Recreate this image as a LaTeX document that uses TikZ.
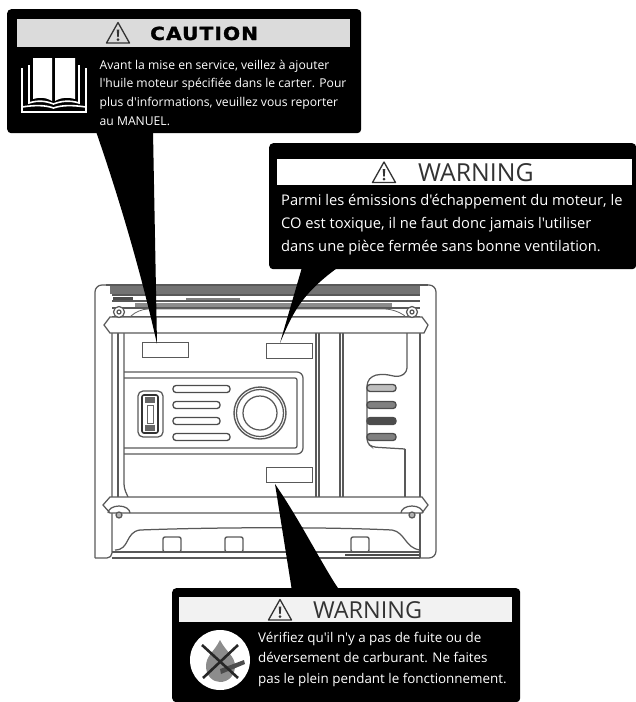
\documentclass[tikz,border=0pt]{standalone}
\usepackage{fontspec}
\setmainfont[Ligatures=TeXOff]{Open Sans}
\newfontfamily\capfont[LetterSpace=6,FakeStretch=1.12,BoldFeatures={FakeBold=1.6}]{DejaVu Sans}
\usetikzlibrary{arrows.meta,positioning,calc}

\begin{document}
\begin{tikzpicture}[x=1pt,y=-1pt,
  callout/.style={fill=black, rounded corners=4pt, anchor=north west, inner sep=0pt},
  band/.style={anchor=north west, inner sep=0pt},
  msg/.style 2 args={anchor=north west, inner sep=0pt, text=white, align=left, font=\fontsize{#1}{#2}\selectfont},
  plate/.style={draw=black!65, line width=1.2pt, fill=white, anchor=north west, inner sep=0pt, minimum width=46pt, minimum height=15pt},
  outline/.style={draw=black!65, line width=1.25pt},
  thin line/.style={draw=black!60, line width=0.8pt},
  slot/.style={draw=black!70, line width=1.3pt, rounded corners=3pt},
  warnsign/.pic={
    \draw[black!80, line width=1.3pt, line join=round] (0,-10.5) -- (11.5,10) -- (-11.5,10) -- cycle;
    \fill[black!80] (-1.3,-3.5) -- (1.3,-3.5) -- (0.7,4) -- (-0.7,4) -- cycle;
    \fill[black!80] (0,6.6) circle (1.5);
  }
]
\useasboundingbox (0,0) rectangle (636,702);

% generator frame
\draw[outline, rounded corners=7pt] (95,558) -- (95,285) -- (112,285);
\draw[outline, rounded corners=7pt] (420,285) -- (436,285) -- (436,558) -- (420,558);
\draw[outline, rounded corners=5pt] (112,333) -- (112,558) -- (95,558);
\draw[outline] (420,333) -- (420,558);
\draw[outline] (106,285) -- (428,285);
\fill[black!55] (110,286) rectangle (420,294);
\foreach \yy in {295,301,308,317} \draw[outline] (112,\yy) -- (420,\yy);
\fill[black!50] (186,298) rectangle (240,300);
\fill[black!70] (113,297) rectangle (133,300);
\fill[black!45] (135,303) rectangle (392,307);
\draw[outline] (118,333) -- (118,497);
\draw[outline, rounded corners=4pt] (124,333) -- (124,488) -- (128,497);

% top and lower straps
\draw[outline, fill=white] (104,325) -- (110,317) -- (422,317) -- (428,325) -- (424,333) -- (110,333) -- cycle;
\draw[outline, fill=white] (103,505) -- (110,497) -- (422,497) -- (428,505) -- (422,513) -- (110,513) -- cycle;

% bolts
\foreach \bx/\by in {119/312,412/312} {
  \draw[outline, fill=white] (\bx,\by) circle (5.5);
  \draw[outline] (\bx,\by) circle (2);
}
\foreach \bx/\by in {119/515,412/515} {
  \draw[outline] (\bx-11,\by-2) arc (180:360:11 and 7);
  \draw[outline, fill=black!30] (\bx,\by) circle (3);
}
\draw[thin line, rounded corners=10pt] (130,317) -- (138,309) -- (395,309) -- (405,316);

% control panel
\draw[outline, rounded corners=6pt] (124,372) -- (303,372) -- (303,454) -- (124,454);
\draw[outline, rounded corners=2pt] (124,378) -- (297,378) -- (297,448) -- (124,448);
\draw[outline] (316,333) -- (316,497);
\draw[outline] (319,333) -- (319,497);
\draw[outline] (340,333) -- (340,497);
\draw[outline] (343,333) -- (343,497);

% socket, vents and knob
\draw[outline, rounded corners=5pt] (138,391) rectangle (163,437);
\draw[draw=black!80, line width=1.6pt, rounded corners=2pt] (142,395) rectangle (158,433);
\fill[black!60] (145,397) rectangle (155,403);
\fill[black!60] (145,425) rectangle (155,431);
\draw[thin line] (147,405) rectangle (153,423);
\foreach \vy/\vx in {389/230,405/220,421/220,437/230}
  \draw[slot] (173,\vy-3.5) rectangle (\vx,\vy+3.5);
\draw[outline, line width=1.4pt] (260,413) circle (26);
\draw[outline] (260,413) circle (23.5);
\draw[outline] (260,413) circle (17);

% right louvres
\draw[outline, rounded corners=4pt] (407,333) -- (407,372) .. controls (395,380) and (390,372) .. (372,376) -- (367,382) -- (367,443) -- (372,447) -- (405,449);
\draw[outline] (405,449) -- (405,497);
\foreach \ly/\lc in {388/25,405/50,421/70,437/50} {
  \draw[slot, fill=black!\lc] (367,\ly-3.5) rectangle (396,\ly+3.5);
}

% base
\draw[outline] (112,552) -- (420,552);
\draw[outline] (112,558) -- (420,558);
\draw[draw=black!70, line width=1.4pt] (345,555) -- (420,555);
\draw[outline] (115,550) .. controls (130,550) and (125,532) .. (140,530) .. controls (220,527) and (330,527) .. (392,530) .. controls (405,532) and (405,548) .. (420,550);
\foreach \sx in {163,225,351}
  \draw[outline, line width=1.4pt, rounded corners=2pt] (\sx,537) rectangle (\sx+18,552);

% label plates
\node[plate] (plateA) at (142,342) {};
\node[plate] (plateB) at (266,343) {};
\node[plate] (plateC) at (266,467) {};

% callout boxes
\node[callout, minimum width=354pt, minimum height=124pt] (cautionbox) at (7,9) {};
\node[callout, minimum width=367pt, minimum height=126pt] (warnboxA) at (269,143) {};
\node[callout, minimum width=348pt, minimum height=114pt] (warnboxB) at (172,588) {};

% pointers
\coordinate (tipA) at (157,344);
\coordinate (tipB) at (280,343);
\coordinate (tipC) at (275,484);
\fill[black] ($(cautionbox.south west)+(89,-2)$) .. controls (125,215) and (145,290) .. (tipA)
  -- ($(cautionbox.south west)+(146,-2)$) -- cycle;
\fill[black] ($(warnboxA.south west)+(33,-2)$) -- (tipB) .. controls (292,315) and (300,295) .. ($(warnboxA.south west)+(69,-2)$) -- cycle;
\fill[black] (tipC) -- ($(warnboxB.north west)+(120,3)$) -- ($(warnboxB.north west)+(168,3)$) .. controls (325,570) and (300,520) .. (tipC) -- cycle;

% header bands
\node[band, fill=black!14, minimum width=333pt, minimum height=28pt] (cautionband) at (17,19) {};
\node[band, fill=white, minimum width=355pt, minimum height=26pt] (warnbandA) at (277,159) {};
\node[band, fill=black!5, minimum width=333pt, minimum height=25pt] (warnbandB) at (179,597) {};

\pic at (118,33) {warnsign};
\pic at (384,172.5) {warnsign};
\pic at (280,610) {warnsign};

\node[inner sep=0pt, anchor=base west, font=\capfont\bfseries\fontsize{18}{18}\selectfont] (cautiontitle) at (150,40) {CAUTION};
\node[inner sep=0pt, anchor=base west, text=black!80, font=\fontsize{24.8}{24.8}\selectfont] (warntitleA) at (418,181) {WARNING};
\node[inner sep=0pt, anchor=base west, text=black!80, font=\fontsize{23.4}{23.4}\selectfont] (warntitleB) at (313,618) {WARNING};

% messages
\node[msg={12.15}{18.9}] (cautiontext) at (99.5,59.5) {Avant la mise en service, veillez à ajouter\\l'huile moteur spécifiée dans le carter. Pour\\plus d'informations, veuillez vous reporter\\au MANUEL.};
\node[msg={14.7}{23}] (warntextA) at (281,194) {Parmi les émissions d'échappement du moteur, le\\CO est toxique, il ne faut donc jamais l'utiliser\\dans une pièce fermée sans bonne ventilation.};
\node[msg={13.4}{20.5}] (warntextB) at (258,632) {Vérifiez qu'il n'y a pas de fuite ou de\\déversement de carburant. Ne faites\\pas le plein pendant le fonctionnement.};

% book icon
\fill[white] (33,58) -- (52,58) -- (52,101) .. controls (45,97) and (40,97) .. (33,99) -- cycle;
\fill[white] (55,58) -- (75,58) -- (75,99) .. controls (68,97) and (62,97) .. (55,101) -- cycle;
\draw[white, line width=1.6pt] (29,65) -- (29,103) .. controls (38,100) and (46,101) .. (53.5,104) .. controls (61,101) and (70,100) .. (79,103) -- (79,65);
\draw[white, line width=2.2pt] (22,68) -- (22,112) -- (86,112) -- (86,68);
\draw[white, line width=1.6pt] (22,107) .. controls (35,105) and (45,105) .. (53.5,108) .. controls (62,105) and (72,105) .. (86,107);

% fuel icon
\node[circle, fill=white, minimum size=60pt, inner sep=0pt] (fuelicon) at (220,660) {};
\fill[black!45] (220,640) .. controls (214,652) and (206,656) .. (206,666) .. controls (206,676) and (213,682) .. (220,682) .. controls (228,682) and (235,676) .. (235,666) .. controls (235,656) and (226,652) .. (220,640) -- cycle;
\fill[black!70] (220,669) -- (244,660) -- (245,664) -- (221,674) -- cycle;
\draw[black!85, line width=2.6pt] (202,645) -- (238,678);
\draw[black!85, line width=2.6pt] (238,645) -- (203,678);
\end{tikzpicture}
\end{document}
